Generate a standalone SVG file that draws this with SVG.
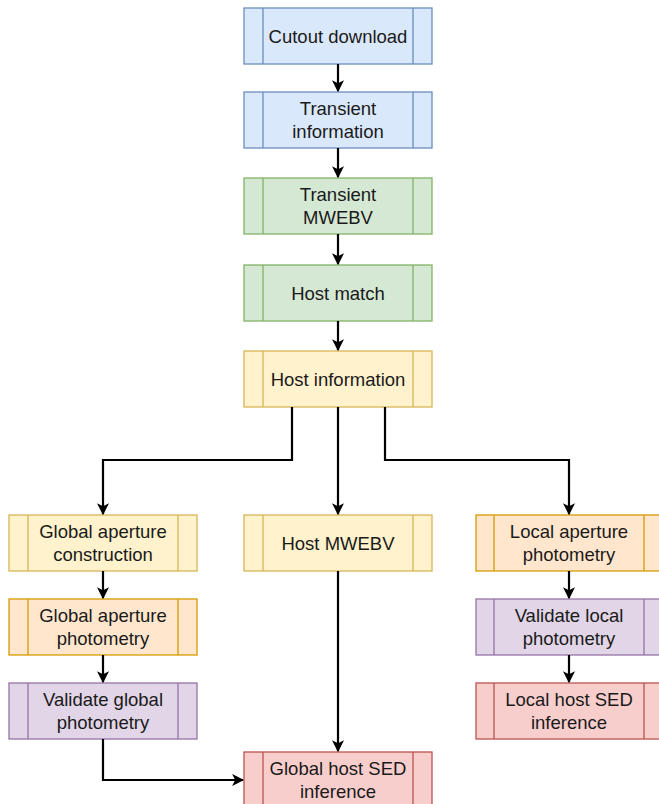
<svg xmlns="http://www.w3.org/2000/svg" width="659" height="804" viewBox="0 0 659 804">
<defs>
<marker id="ah" viewBox="0 0 10 10" refX="9" refY="5" markerWidth="5.5" markerHeight="5.5" markerUnits="strokeWidth" orient="auto">
<path d="M0,0 L10,5 L0,10 L2.5,5 Z" fill="#000"/>
</marker>
</defs>
<style>
.box{stroke-width:1.3}
.blue{fill:#dae8fc;stroke:#6c8ebf}
.green{fill:#d5e8d4;stroke:#82b366}
.yellow{fill:#fff2cc;stroke:#d6b656}
.orange{fill:#ffe6cc;stroke:#d79b00}
.purple{fill:#e1d5e7;stroke:#9673a6}
.red{fill:#f8cecc;stroke:#b85450}
.div{fill:none;stroke-width:1.3}
text{font-family:"Liberation Sans",Arial,sans-serif;font-size:18.5px;fill:#1a1a1a;text-anchor:middle}
.conn path{fill:none;stroke:#000;stroke-width:2.2;marker-end:url(#ah)}
</style>
<rect width="659" height="804" fill="#fff"/>

<g id="cutout">
<rect class="box blue" x="244" y="8" width="188" height="56"/>
<path class="div blue" d="M263,8V64M413,8V64"/>
<text x="338" y="42.5">Cutout download</text>
</g>
<g id="transient-info">
<rect class="box blue" x="244" y="92" width="188" height="56"/>
<path class="div blue" d="M263,92V148M413,92V148"/>
<text x="338" y="115">Transient</text>
<text x="338" y="137.5">information</text>
</g>
<g id="transient-mwebv">
<rect class="box green" x="244" y="178" width="188" height="56"/>
<path class="div green" d="M263,178V234M413,178V234"/>
<text x="338" y="201">Transient</text>
<text x="338" y="223.5">MWEBV</text>
</g>
<g id="host-match">
<rect class="box green" x="244" y="265" width="188" height="56"/>
<path class="div green" d="M263,265V321M413,265V321"/>
<text x="338" y="299.5">Host match</text>
</g>
<g id="host-info">
<rect class="box yellow" x="244" y="351" width="188" height="56"/>
<path class="div yellow" d="M263,351V407M413,351V407"/>
<text x="338" y="385.5">Host information</text>
</g>

<g id="global-ap-constr">
<rect class="box yellow" x="9" y="515" width="188" height="56"/>
<path class="div yellow" d="M28,515V571M178,515V571"/>
<text x="103" y="538">Global aperture</text>
<text x="103" y="560.5">construction</text>
</g>
<g id="host-mwebv">
<rect class="box yellow" x="244" y="515" width="188" height="56"/>
<path class="div yellow" d="M263,515V571M413,515V571"/>
<text x="338" y="549.5">Host MWEBV</text>
</g>
<g id="local-ap-phot">
<rect class="box orange" x="476" y="515" width="188" height="56"/>
<path class="div orange" d="M494,515V571M644,515V571"/>
<text x="569" y="538">Local aperture</text>
<text x="569" y="560.5">photometry</text>
</g>

<g id="global-ap-phot">
<rect class="box orange" x="9" y="599" width="188" height="56"/>
<path class="div orange" d="M28,599V655M178,599V655"/>
<text x="103" y="622">Global aperture</text>
<text x="103" y="644.5">photometry</text>
</g>
<g id="validate-local">
<rect class="box purple" x="476" y="599" width="188" height="56"/>
<path class="div purple" d="M494,599V655M644,599V655"/>
<text x="569" y="622">Validate local</text>
<text x="569" y="644.5">photometry</text>
</g>

<g id="validate-global">
<rect class="box purple" x="9" y="683" width="188" height="56"/>
<path class="div purple" d="M28,683V739M178,683V739"/>
<text x="103" y="706">Validate global</text>
<text x="103" y="728.5">photometry</text>
</g>
<g id="local-sed">
<rect class="box red" x="476" y="683" width="188" height="56"/>
<path class="div red" d="M494,683V739M644,683V739"/>
<text x="569" y="706">Local host SED</text>
<text x="569" y="728.5">inference</text>
</g>

<g id="global-sed">
<rect class="box red" x="244" y="752" width="188" height="56"/>
<path class="div red" d="M263,752V808M413,752V808"/>
<text x="338" y="775">Global host SED</text>
<text x="338" y="797.5">inference</text>
</g>

<g class="conn" id="connectors">
<path d="M338,64V91"/>
<path d="M338,148V177"/>
<path d="M338,234V264"/>
<path d="M338,321V350"/>
<path d="M292,407V460H103V514"/>
<path d="M338,407V514"/>
<path d="M385,407V460H569V514"/>
<path d="M103,571V598"/>
<path d="M103,655V682"/>
<path d="M569,571V598"/>
<path d="M569,655V682"/>
<path d="M338,571V751"/>
<path d="M103,739V780H243"/>
</g>
</svg>
